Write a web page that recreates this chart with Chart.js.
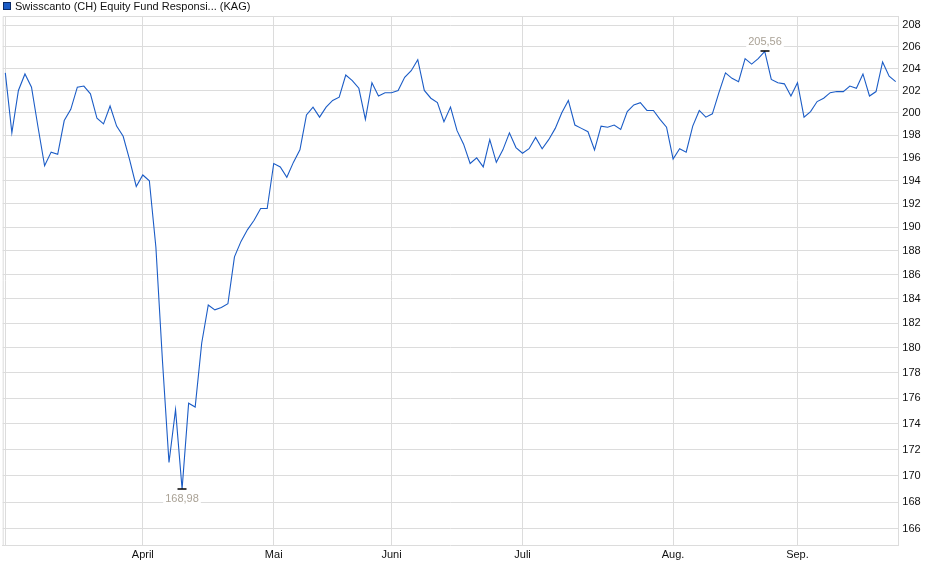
<!DOCTYPE html>
<html>
<head>
<meta charset="utf-8">
<script src="https://cdn.jsdelivr.net/npm/chart.js@4/dist/chart.umd.min.js"></script>
<style>
  html, body { margin: 0; padding: 0; background: #fff; }
  #wrap { width: 940px; height: 579px; }
</style>
</head>
<body>
<div id="wrap"><canvas id="chart" width="940" height="579"></canvas></div>
<script>
// fund price, one value per trading day (March - September)
const prices = [
  203.6, 198.2, 202.0, 203.5, 202.3, 198.7, 195.3, 196.5, 196.3, 199.3,
  200.3, 202.3, 202.4, 201.7, 199.5, 199.0, 200.6, 198.8, 197.9, 195.8,
  193.5, 194.5, 194.0, 188.3, 179.0, 171.0, 175.1, 168.98, 175.6, 175.3,
  180.4, 183.5, 183.1, 183.3, 183.6, 187.5, 188.8, 189.8, 190.6, 191.6,
  191.6, 195.5, 195.2, 194.3, 195.6, 196.7, 199.8, 200.5, 199.6, 200.5,
  201.1, 201.4, 203.4, 202.9, 202.2, 199.4, 202.7, 201.5, 201.8, 201.8,
  202.0, 203.2, 203.8, 204.8, 202.0, 201.3, 200.9, 199.2, 200.5, 198.4,
  197.2, 195.5, 196.0, 195.2, 197.6, 195.6, 196.7, 198.2, 196.9, 196.4,
  196.8, 197.8, 196.8, 197.6, 198.6, 200.0, 201.1, 198.9, 198.6, 198.3,
  196.7, 198.8, 198.7, 198.9, 198.5, 200.1, 200.7, 200.9, 200.2, 200.2,
  199.4, 198.7, 195.9, 196.8, 196.5, 198.8, 200.2, 199.6, 199.9, 201.8,
  203.6, 203.1, 202.8, 204.9, 204.4, 204.9, 205.56, 203.0, 202.7, 202.6,
  201.5, 202.7, 199.6, 200.1, 201.0, 201.3, 201.8, 201.9, 201.9, 202.4,
  202.2, 203.5, 201.5, 201.9, 204.6, 203.3, 202.8
];

// first trading day of each month (index into prices)
const monthIdx = [0, 21, 41, 59, 79, 102, 121];
const monthLabels = ['', 'April', 'Mai', 'Juni', 'Juli', 'Aug.', 'Sep.'];

const yTicks = [166, 168, 170, 172, 174, 176, 178, 180, 182, 184, 186, 188,
  190, 192, 194, 196, 198, 200, 202, 204, 206, 208];

const seriesName = 'Swisscanto (CH) Equity Fund Responsi... (KAG)';
const lineColor = '#1b5cc6';
const gridColor = '#dcdcdc';
const FONT = '"Liberation Sans", Arial, sans-serif';

function fmt(v) {
  return v.toFixed(2).replace('.', ',');
}

// legend, frame and min/max markers
const extras = {
  id: 'extras',
  beforeDatasetsDraw(chart) {
    const { ctx, chartArea: a } = chart;
    ctx.save();
    ctx.strokeStyle = gridColor;
    ctx.lineWidth = 1;
    ctx.beginPath();
    ctx.moveTo(a.left + 0.5, a.bottom);
    ctx.lineTo(a.left + 0.5, a.top + 0.5);
    ctx.lineTo(a.right, a.top + 0.5);
    ctx.stroke();
    ctx.restore();
  },
  afterDatasetsDraw(chart) {
    const { ctx, scales } = chart;
    let lo = 0, hi = 0;
    prices.forEach((v, i) => {
      if (v < prices[lo]) lo = i;
      if (v > prices[hi]) hi = i;
    });
    ctx.save();
    ctx.font = '11px ' + FONT;
    ctx.textAlign = 'center';
    ctx.textBaseline = 'middle';
    [[lo, 10], [hi, -9]].forEach(([i, off]) => {
      const x = Math.round(scales.x.getPixelForValue(i));
      const y = Math.round(scales.y.getPixelForValue(prices[i]));
      ctx.strokeStyle = '#000';
      ctx.lineWidth = 1.5;
      ctx.beginPath();
      ctx.moveTo(x - 4.5, y);
      ctx.lineTo(x + 4.5, y);
      ctx.stroke();
      const txt = fmt(prices[i]);
      const w = ctx.measureText(txt).width;
      ctx.fillStyle = '#fff';
      ctx.fillRect(x - w / 2 - 2, y + off - 6, w + 4, 12);
      ctx.fillStyle = '#aaa296';
      ctx.fillText(txt, x, y + off);
    });

    // legend
    ctx.fillStyle = lineColor;
    ctx.fillRect(3, 2, 8, 8);
    ctx.strokeStyle = '#0a2a66';
    ctx.lineWidth = 1;
    ctx.strokeRect(3.5, 2.5, 7, 7);
    ctx.fillStyle = '#111';
    ctx.textAlign = 'left';
    ctx.fillText(seriesName, 15, 7);
    ctx.restore();
  }
};

new Chart(document.getElementById('chart'), {
  type: 'line',
  data: {
    datasets: [{
      label: seriesName,
      data: prices.map((v, i) => ({ x: i, y: v })),
      borderColor: lineColor,
      borderWidth: 1.1,
      pointRadius: 0,
      tension: 0,
      fill: false
    }]
  },
  options: {
    responsive: false,
    animation: false,
    events: [],
    layout: { padding: { left: 2.7, top: 16, right: 0, bottom: 0 } },
    plugins: { legend: { display: false }, tooltip: { enabled: false } },
    scales: {
      x: {
        type: 'linear',
        min: -0.4,
        max: 136.4,
        afterBuildTicks: s => { s.ticks = monthIdx.map(v => ({ value: v })); },
        afterFit: s => { s.height = 34; },
        ticks: {
          autoSkip: false,
          maxRotation: 0,
          padding: 3,
          color: '#111',
          font: { family: FONT, size: 11 },
          callback: (v) => monthLabels[monthIdx.indexOf(v)]
        },
        grid: { color: gridColor, drawTicks: false },
        border: { color: gridColor }
      },
      y: {
        type: 'logarithmic',
        position: 'right',
        min: 164.8,
        max: 208.85,
        afterBuildTicks: s => { s.ticks = yTicks.map(v => ({ value: v })); },
        afterFit: s => { s.width = 41.7; },
        ticks: {
          padding: 4,
          color: '#111',
          font: { family: FONT, size: 11 },
          callback: v => String(v)
        },
        grid: { color: gridColor, drawTicks: false },
        border: { color: gridColor }
      }
    }
  },
  plugins: [extras]
});
</script>
</body>
</html>
